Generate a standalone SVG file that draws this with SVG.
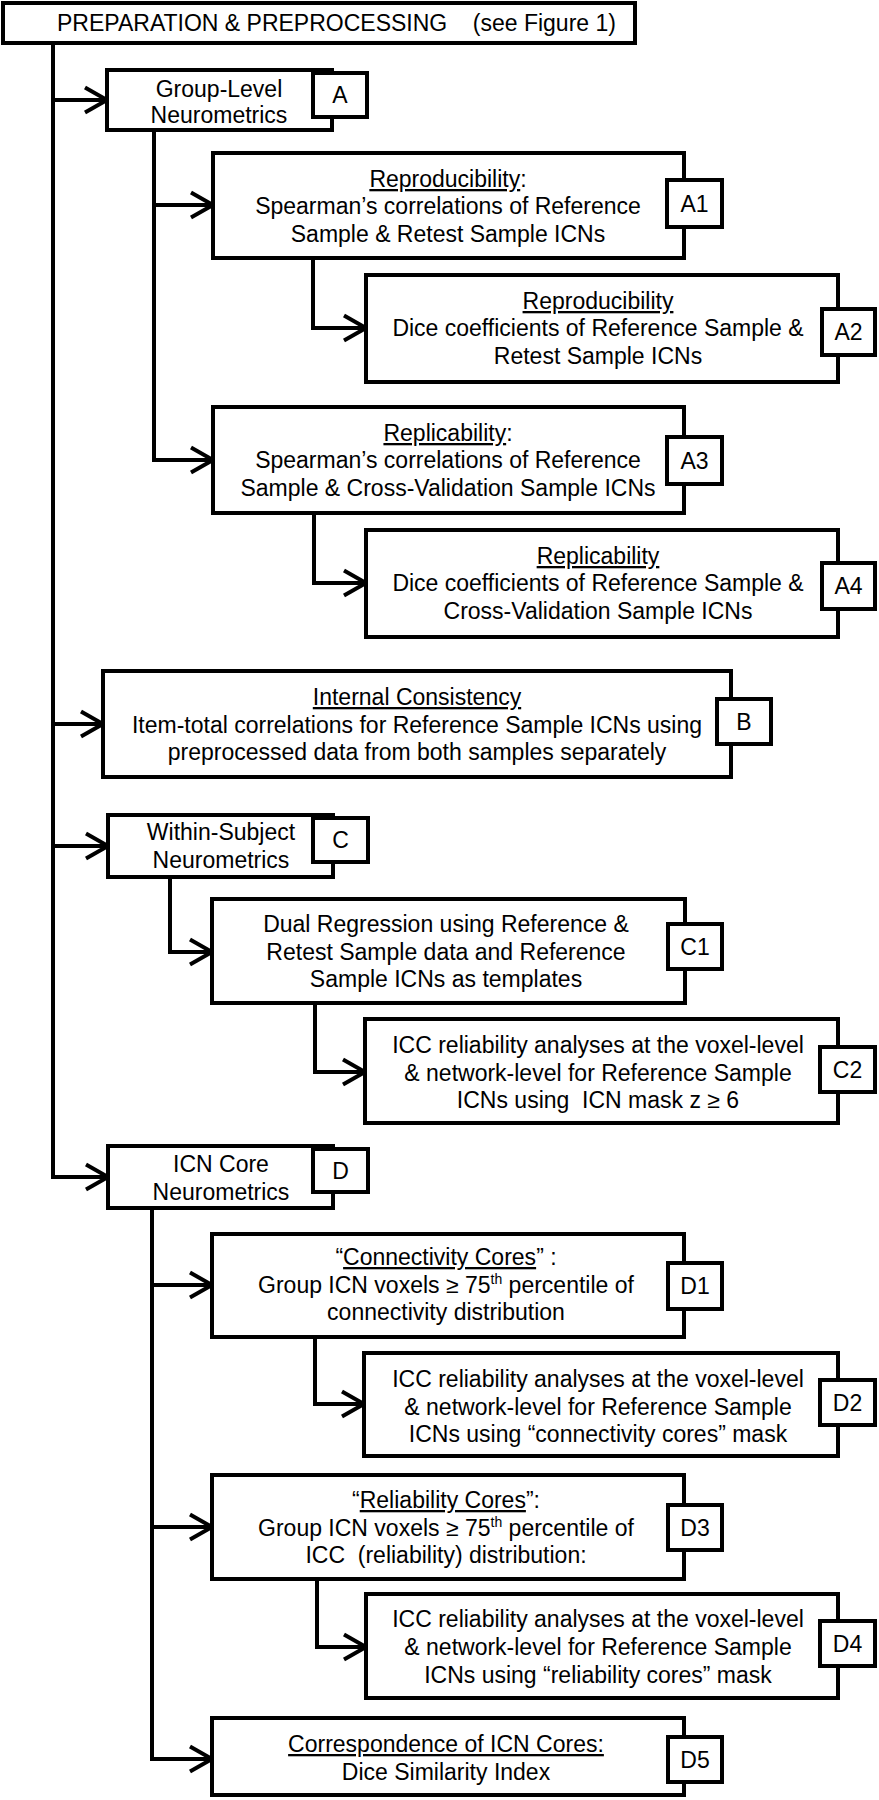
<svg xmlns="http://www.w3.org/2000/svg" width="879" height="1800" viewBox="0 0 879 1800">
<style>
.box{fill:#fff;stroke:#000;stroke-width:4}
.lbl{fill:#fff;stroke:#000;stroke-width:4}
.t{font-family:"Liberation Sans",Arial,sans-serif;font-size:23px;fill:#000;text-anchor:middle}
.u{text-decoration:underline}
.con{fill:none;stroke:#000;stroke-width:4;stroke-linejoin:miter}
</style>
<defs>
<marker id="arr" markerUnits="userSpaceOnUse" markerWidth="30" markerHeight="30" viewBox="0 0 30 30" refX="26" refY="15" orient="auto">
<path d="M4,2.5 L26,15 L4,27.5" fill="none" stroke="#000" stroke-width="4"/>
</marker>
</defs>
<rect width="879" height="1800" fill="#fff"/>
<g id="connectors" class="con">
<path d="M53,43 V1177 H108" marker-end="url(#arr)"/>
<path d="M53,100 H107" marker-end="url(#arr)"/>
<path d="M53,724 H103" marker-end="url(#arr)"/>
<path d="M53,846 H108" marker-end="url(#arr)"/>
<path d="M154,130 V460 H213" marker-end="url(#arr)"/>
<path d="M154,205 H213" marker-end="url(#arr)"/>
<path d="M313,257 V328 H366" marker-end="url(#arr)"/>
<path d="M314,513 V583 H366" marker-end="url(#arr)"/>
<path d="M170,877 V952 H212" marker-end="url(#arr)"/>
<path d="M315,1003 V1072 H365" marker-end="url(#arr)"/>
<path d="M152,1208 V1759 H212" marker-end="url(#arr)"/>
<path d="M152,1285 H212" marker-end="url(#arr)"/>
<path d="M152,1527 H212" marker-end="url(#arr)"/>
<path d="M315,1337 V1404 H364" marker-end="url(#arr)"/>
<path d="M317,1579 V1647 H366" marker-end="url(#arr)"/>
</g>
<g id="prep">
<rect class="box" x="3" y="3" width="632" height="40"/>
<text class="t" x="57" y="31" style="text-anchor:start" xml:space="preserve">PREPARATION &amp; PREPROCESSING    (see Figure 1)</text>
</g>
<g id="A">
<rect class="box" x="107" y="70" width="225" height="60"/>
<rect class="lbl" x="313" y="73" width="54" height="44"/>
<text class="t" x="219" y="97">Group-Level</text>
<text class="t" x="219" y="123">Neurometrics</text>
<text class="t" x="340" y="103">A</text>
</g>
<g id="A1">
<rect class="box" x="213" y="153" width="471" height="105"/>
<rect class="lbl" x="667" y="180" width="55" height="47"/>
<text class="t" x="448" y="187"><tspan class="u">Reproducibility</tspan>:</text>
<text class="t" x="448" y="214">Spearman’s correlations of Reference</text>
<text class="t" x="448" y="242">Sample &amp; Retest Sample ICNs</text>
<text class="t" x="694.5" y="212">A1</text>
</g>
<g id="A2">
<rect class="box" x="366" y="275" width="472" height="107"/>
<rect class="lbl" x="822" y="309" width="53" height="46"/>
<text class="t" x="598" y="309"><tspan class="u">Reproducibility</tspan></text>
<text class="t" x="598" y="336">Dice coefficients of Reference Sample &amp;</text>
<text class="t" x="598" y="364">Retest Sample ICNs</text>
<text class="t" x="848.5" y="340">A2</text>
</g>
<g id="A3">
<rect class="box" x="213" y="407" width="471" height="106"/>
<rect class="lbl" x="667" y="437" width="55" height="47"/>
<text class="t" x="448" y="441"><tspan class="u">Replicability</tspan>:</text>
<text class="t" x="448" y="468">Spearman’s correlations of Reference</text>
<text class="t" x="448" y="496">Sample &amp; Cross-Validation Sample ICNs</text>
<text class="t" x="694.5" y="469">A3</text>
</g>
<g id="A4">
<rect class="box" x="366" y="530" width="472" height="107"/>
<rect class="lbl" x="822" y="563" width="53" height="46"/>
<text class="t" x="598" y="564"><tspan class="u">Replicability</tspan></text>
<text class="t" x="598" y="591">Dice coefficients of Reference Sample &amp;</text>
<text class="t" x="598" y="619">Cross-Validation Sample ICNs</text>
<text class="t" x="848.5" y="594">A4</text>
</g>
<g id="B">
<rect class="box" x="103" y="671" width="628" height="106"/>
<rect class="lbl" x="717" y="699" width="54" height="45"/>
<text class="t" x="417" y="705"><tspan class="u">Internal Consistency</tspan></text>
<text class="t" x="417" y="733">Item-total correlations for Reference Sample ICNs using</text>
<text class="t" x="417" y="760">preprocessed data from both samples separately</text>
<text class="t" x="744" y="730">B</text>
</g>
<g id="C">
<rect class="box" x="108" y="815" width="225" height="62"/>
<rect class="lbl" x="313" y="818" width="55" height="44"/>
<text class="t" x="221" y="840">Within-Subject</text>
<text class="t" x="221" y="868">Neurometrics</text>
<text class="t" x="340.5" y="848">C</text>
</g>
<g id="C1">
<rect class="box" x="212" y="899" width="473" height="104"/>
<rect class="lbl" x="668" y="924" width="54" height="45"/>
<text class="t" x="446" y="932">Dual Regression using Reference &amp;</text>
<text class="t" x="446" y="960">Retest Sample data and Reference</text>
<text class="t" x="446" y="987">Sample ICNs as templates</text>
<text class="t" x="695" y="955">C1</text>
</g>
<g id="C2">
<rect class="box" x="365" y="1019" width="473" height="104"/>
<rect class="lbl" x="820" y="1047" width="55" height="45"/>
<text class="t" x="598" y="1053">ICC reliability analyses at the voxel-level</text>
<text class="t" x="598" y="1081">&amp; network-level for Reference Sample</text>
<text class="t" x="598" y="1108" xml:space="preserve">ICNs using  ICN mask z ≥ 6</text>
<text class="t" x="847.5" y="1078">C2</text>
</g>
<g id="D">
<rect class="box" x="108" y="1146" width="225" height="62"/>
<rect class="lbl" x="313" y="1149" width="55" height="43"/>
<text class="t" x="221" y="1172">ICN Core</text>
<text class="t" x="221" y="1200">Neurometrics</text>
<text class="t" x="340.5" y="1179">D</text>
</g>
<g id="D1">
<rect class="box" x="212" y="1234" width="472" height="103"/>
<rect class="lbl" x="668" y="1263" width="54" height="46"/>
<text class="t" x="446" y="1265">“<tspan class="u">Connectivity Cores</tspan>” :</text>
<text class="t" x="446" y="1293">Group ICN voxels ≥ 75<tspan font-size="14" dy="-9">th</tspan><tspan dy="9"> percentile of</tspan></text>
<text class="t" x="446" y="1320">connectivity distribution</text>
<text class="t" x="695" y="1294">D1</text>
</g>
<g id="D2">
<rect class="box" x="364" y="1353" width="474" height="103"/>
<rect class="lbl" x="820" y="1380" width="55" height="45"/>
<text class="t" x="598" y="1387">ICC reliability analyses at the voxel-level</text>
<text class="t" x="598" y="1415">&amp; network-level for Reference Sample</text>
<text class="t" x="598" y="1442">ICNs using “connectivity cores” mask</text>
<text class="t" x="847.5" y="1411">D2</text>
</g>
<g id="D3">
<rect class="box" x="212" y="1475" width="472" height="104"/>
<rect class="lbl" x="668" y="1505" width="54" height="45"/>
<text class="t" x="446" y="1508">“<tspan class="u">Reliability Cores</tspan>”:</text>
<text class="t" x="446" y="1536">Group ICN voxels ≥ 75<tspan font-size="14" dy="-9">th</tspan><tspan dy="9"> percentile of</tspan></text>
<text class="t" x="446" y="1563" xml:space="preserve">ICC  (reliability) distribution:</text>
<text class="t" x="695" y="1536">D3</text>
</g>
<g id="D4">
<rect class="box" x="366" y="1594" width="472" height="104"/>
<rect class="lbl" x="820" y="1621" width="55" height="45"/>
<text class="t" x="598" y="1627">ICC reliability analyses at the voxel-level</text>
<text class="t" x="598" y="1655">&amp; network-level for Reference Sample</text>
<text class="t" x="598" y="1683">ICNs using “reliability cores” mask</text>
<text class="t" x="847.5" y="1652">D4</text>
</g>
<g id="D5">
<rect class="box" x="212" y="1718" width="472" height="77"/>
<rect class="lbl" x="668" y="1737" width="54" height="45"/>
<text class="t" x="446" y="1752"><tspan class="u">Correspondence of ICN Cores:</tspan></text>
<text class="t" x="446" y="1780">Dice Similarity Index</text>
<text class="t" x="695" y="1768">D5</text>
</g>
</svg>
